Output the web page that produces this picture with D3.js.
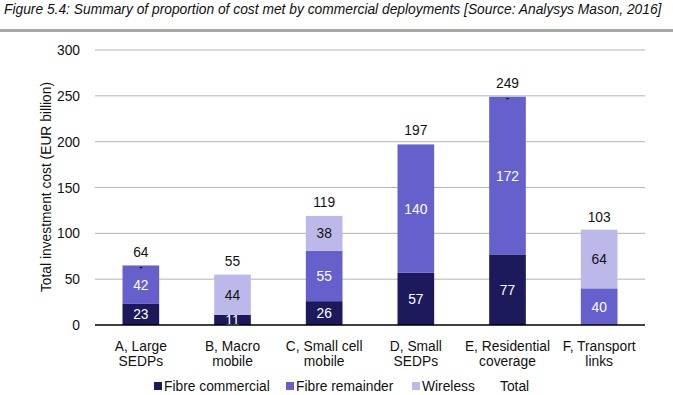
<!DOCTYPE html>
<html>
<head>
<meta charset="utf-8">
<script src="https://cdn.jsdelivr.net/npm/d3@7"></script>
<style>
body { margin: 0; background: #fff; }
text { font-family: "Liberation Sans", Arial, sans-serif; }
</style>
</head>
<body>
<script>
// chart data
var categories = [["A, Large", "SEDPs"], ["B, Macro", "mobile"], ["C, Small cell", "mobile"],
                  ["D, Small", "SEDPs"], ["E, Residential", "coverage"], ["F, Transport", "links"]];
var fibreCommercial = [23, 11, 26, 57, 77, 0];
var fibreRemainder = [42, 0, 55, 140, 172, 40];
var wireless = [0.3, 44, 38, 0, 0.3, 64];
var totals = [64, 55, 119, 197, 249, 103];
var yTicks = [0, 50, 100, 150, 200, 250, 300];
var seriesNames = ["Fibre commercial", "Fibre remainder", "Wireless", "Total"];
var colors = ["#1c1a5a", "#6660cc", "#bcb9ea"];

var W = 673, H = 395, fs = 13.8;
var svg = d3.select("body").append("svg").attr("width", W).attr("height", H);

// title
svg.append("text").attr("x", 4).attr("y", 14)
    .attr("font-size", 13.8).attr("font-style", "italic").attr("fill", "#111")
    .text("Figure 5.4: Summary of proportion of cost met by commercial deployments [Source: Analysys Mason, 2016]");
svg.append("rect").attr("x", 0).attr("y", 29).attr("width", W).attr("height", 3).attr("fill", "#a3aba3");

var x = d3.scaleBand().domain(d3.range(categories.length)).range([95, 645]).paddingInner(0.6).paddingOuter(0.3);
var y = d3.scaleLinear().domain([0, 300]).range([325, 50]);

// gridlines
svg.selectAll("line.grid").data(yTicks.slice(1)).enter().append("line")
    .attr("x1", 95).attr("x2", 645)
    .attr("y1", function(d){ return y(d); }).attr("y2", function(d){ return y(d); })
    .attr("stroke", "#b4b4b4").attr("stroke-width", 1);

// y tick labels
svg.selectAll("text.ytick").data(yTicks).enter().append("text")
    .attr("x", 80).attr("y", function(d){ return y(d) + 5; })
    .attr("text-anchor", "end").attr("font-size", fs).attr("fill", "#111")
    .text(function(d){ return d; });

svg.append("text")
    .attr("transform", "translate(51,187) rotate(-90)")
    .attr("text-anchor", "middle").attr("font-size", fs).attr("fill", "#111")
    .text("Total investment cost (EUR billion)");

// stacks
var rows = categories.map(function(c, i){
    return {i: i, fc: fibreCommercial[i], fr: fibreRemainder[i], w: wireless[i]};
});
var stack = d3.stack().keys(["fc", "fr", "w"]);
var layers = stack(rows);

var g = svg.selectAll("g.layer").data(layers).enter().append("g")
    .attr("fill", function(d, k){ return colors[k]; });

g.selectAll("rect").data(function(d){ return d; }).enter().append("rect")
    .attr("x", function(d){ return x(d.data.i); })
    .attr("width", x.bandwidth())
    .attr("y", function(d){ return y(d[1]); })
    .attr("height", function(d){ return y(d[0]) - y(d[1]); });

// segment labels
layers.forEach(function(layer, k){
    layer.forEach(function(d){
        var v = d[1] - d[0];
        if (v <= 0) return;
        var tiny = Math.round(v) === 0;
        svg.append("text")
            .attr("x", x(d.data.i) + x.bandwidth() / 2)
            .attr("y", tiny ? y(d[1]) + 5 : (y(d[0]) + y(d[1])) / 2 + 5)
            .attr("text-anchor", "middle").attr("font-size", tiny ? 10 : fs)
            .attr("font-weight", tiny ? "bold" : "normal")
            .attr("fill", k === 2 ? "#111" : "#fff")
            .text(tiny ? "-" : Math.round(v));
    });
});

// totals
svg.selectAll("text.total").data(totals).enter().append("text")
    .attr("x", function(d, i){ return x(i) + x.bandwidth() / 2; })
    .attr("y", function(d){ return y(d) - 9; })
    .attr("text-anchor", "middle").attr("font-size", fs).attr("fill", "#111")
    .text(function(d){ return d; });

// baseline
svg.append("line").attr("x1", 95).attr("x2", 645).attr("y1", y(0)).attr("y2", y(0))
    .attr("stroke", "#000").attr("stroke-width", 1.3);

// category labels
categories.forEach(function(c, i){
    var t = svg.append("text").attr("text-anchor", "middle").attr("font-size", fs).attr("fill", "#111");
    c.forEach(function(line, j){
        t.append("tspan").attr("x", x(i) + x.bandwidth() / 2).attr("y", 351 + j * 15).text(line);
    });
});

// legend
var legendX = [154, 286, 412, 500];
seriesNames.forEach(function(n, k){
    if (k < 3) {
        svg.append("rect").attr("x", legendX[k]).attr("y", 382).attr("width", 8).attr("height", 8).attr("fill", colors[k]);
    }
    svg.append("text").attr("x", legendX[k] + (k < 3 ? 10 : 0)).attr("y", 391)
        .attr("font-size", fs).attr("fill", "#111").text(n);
});
</script>
</body>
</html>
